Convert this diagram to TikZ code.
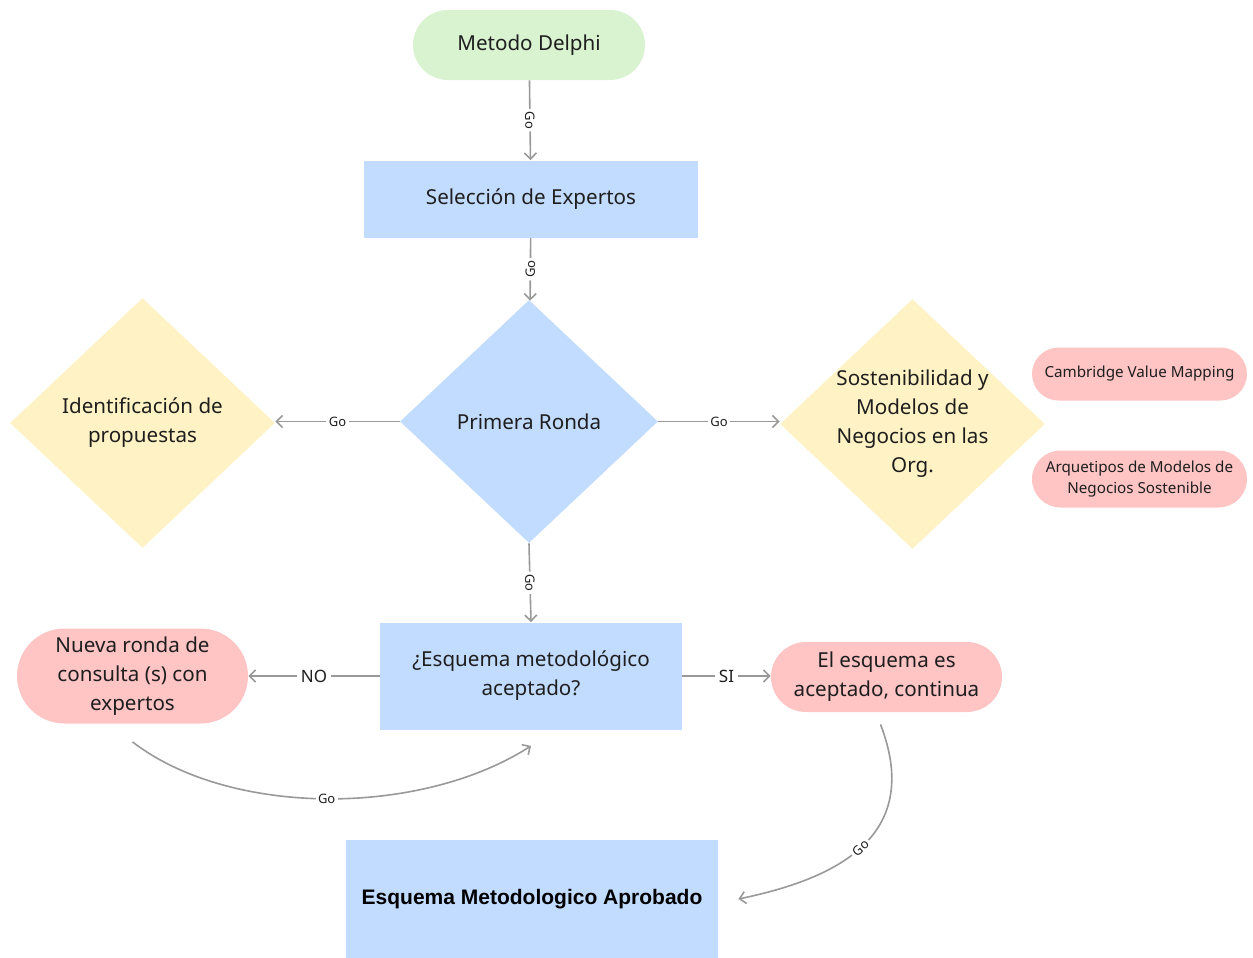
\documentclass[tikz,border=0pt]{standalone}
\usepackage{fontspec}
\setmainfont{Noto Sans}
\newfontfamily\heavyfont{Liberation Sans}
\usetikzlibrary{arrows.meta,positioning,shapes.geometric,shapes.misc}
\definecolor{palegreen}{HTML}{D9F2D0}
\definecolor{paleblue}{HTML}{C2DCFF}
\definecolor{paleyellow}{HTML}{FFF2C4}
\definecolor{palepink}{HTML}{FFC4C4}
\definecolor{linegray}{HTML}{999999}
\definecolor{inkgray}{HTML}{1E1E1E}

\begin{document}
\begin{tikzpicture}[x=0.5pt,y=0.5pt,font=\fontsize{10.3}{14.5}\selectfont,text=inkgray,
  pill/.style={rounded rectangle,inner sep=0pt,align=center},
  stage/.style={rectangle,fill=paleblue,inner sep=0pt,align=center},
  choice/.style={diamond,inner sep=0pt,align=center},
  arr/.style={-{Straight Barb[length=3pt,width=6pt]},line width=0.8pt,draw=linegray},
  golbl/.style={fill=white,inner sep=1.2pt,font=\fontsize{6.5}{8}\selectfont},
  yesno/.style={fill=white,inner sep=2pt,font=\fontsize{8.5}{10}\selectfont}]
  \useasboundingbox (0,0) rectangle (1253,-958);

  \node[pill,fill=palegreen,minimum width=116pt,minimum height=35pt] (delphi) at (529,-45)
    {Metodo Delphi};
  \node[stage,minimum width=167pt,minimum height=38.5pt] (experts) at (531,-199)
    {Selección de Expertos};
  \node[choice,fill=paleblue,minimum width=129pt,minimum height=121.5pt] (round) at (529,-421.5)
    {Primera Ronda};
  \node[choice,fill=paleyellow,minimum width=132.5pt,minimum height=125pt] (ident) at (142.5,-423)
    {Identificación de\\propuestas};
  \node[choice,fill=paleyellow,minimum width=132.5pt,minimum height=125pt,inner sep=-10pt] (sost) at (912.5,-424)
    {Sostenibilidad y\\Modelos de\\Negocios en las\\Org.};
  \node[pill,fill=palepink,minimum width=107.5pt,minimum height=26.5pt,
    font=\fontsize{7.6}{10.5}\selectfont] (cvm) at (1139.5,-374)
    {Cambridge Value Mapping};
  \node[pill,fill=palepink,minimum width=107.5pt,minimum height=28.5pt,
    font=\fontsize{7.6}{10.5}\selectfont] (arq) at (1139.5,-479)
    {Arquetipos de Modelos de\\Negocios Sostenible};
  \node[stage,minimum width=151pt,minimum height=53.5pt] (accepted) at (531,-676)
    {¿Esquema metodológico\\aceptado?};
  \node[pill,fill=palepink,minimum width=115.5pt,minimum height=47.5pt] (newround) at (132.5,-676)
    {Nueva ronda de\\consulta (s) con\\expertos};
  \node[pill,fill=palepink,minimum width=115.5pt,minimum height=35pt] (goon) at (886.5,-677)
    {El esquema es\\aceptado, continua};
  \node[stage,minimum width=186pt,minimum height=59pt,font=\heavyfont\fontsize{10.5}{13}\selectfont\bfseries,
    text=black] (approved) at (532,-899)
    {Esquema Metodologico Aprobado};

  \draw[arr] (delphi) -- node[golbl,sloped]{Go} (experts);
  \draw[arr] (experts) -- node[golbl,sloped]{Go} (round);
  \draw[arr] (round.west) -- node[golbl]{Go} (round.west -| ident.east);
  \draw[arr] (round.east) -- node[golbl]{Go} (round.east -| sost.west);
  \draw[arr] (round.south) -- node[golbl,sloped]{Go} (accepted.north);
  \draw[arr] (accepted.west) -- node[yesno]{NO} (accepted.west -| newround.east);
  \draw[arr] (accepted.east) -- node[yesno]{SI} (accepted.east -| goon.west);

  \coordinate (loopstart) at ([yshift=-9pt]newround.south);
  \coordinate (loopend) at ([yshift=-8pt]accepted.south);
  \draw[arr] (loopstart) .. controls (230,-817) and (420,-817) .. node[golbl]{Go} (loopend);

  \coordinate (okstart) at ([xshift=-3pt,yshift=-6pt]goon.south);
  \coordinate (okend) at ([xshift=10pt]approved.east);
  \draw[arr] (okstart) .. controls (925,-840) and (830,-880) .. node[golbl,sloped]{Go} (okend);
\end{tikzpicture}
\end{document}
